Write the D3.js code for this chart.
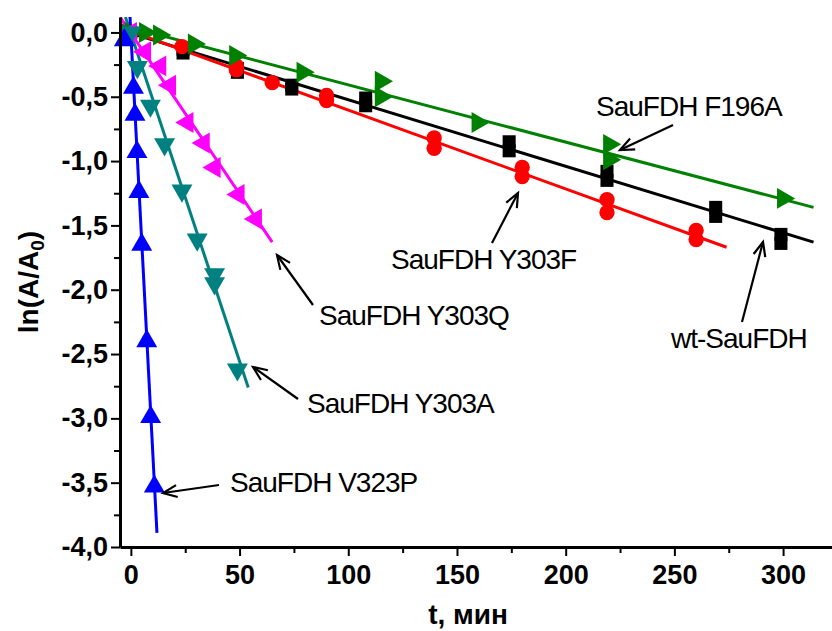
<!DOCTYPE html>
<html>
<head>
<meta charset="utf-8">
<script src="https://cdn.jsdelivr.net/npm/d3@7"></script>
<style>
  body { margin: 0; background: #fff; }
  svg { display: block; }
  .axis text { font-family: "Liberation Sans", Arial, sans-serif; font-weight: bold; font-size: 27px; fill: #000; }
  .note { font-family: "Liberation Sans", Arial, sans-serif; font-size: 28px; letter-spacing: -1px; fill: #000; }
</style>
</head>
<body>
<div id="chart-area"></div>
<script>
// times (min) and ln(A/A0) values, repeats are duplicate runs
var wtTime = [0, 24, 24, 49, 49, 74, 74, 108, 108, 174, 174, 219, 219, 269, 269, 299, 299]
var wtVal = [0, -0.13, -0.16, -0.28, -0.31, -0.41, -0.44, -0.51, -0.57, -0.85, -0.92, -1.08, -1.15, -1.36, -1.43, -1.57, -1.64]
var y303fTime = [0, 23.5, 48.5, 48.5, 65, 90, 90, 139.5, 139.5, 180, 180, 219, 219, 260, 260]
var y303fVal = [0, -0.11, -0.26, -0.29, -0.39, -0.49, -0.53, -0.82, -0.90, -1.05, -1.12, -1.30, -1.40, -1.54, -1.61]
var f196aTime = [0, 6.5, 13, 29, 48, 79, 115, 115, 159.5, 220, 220, 300]
var f196aVal = [0, 0.0, -0.02, -0.09, -0.18, -0.31, -0.38, -0.50, -0.70, -0.87, -0.99, -1.29]
var y303qTime = [0, 6.5, 13.5, 18, 26, 33.5, 38.5, 49.5, 57.5]
var y303qVal = [0, -0.15, -0.26, -0.41, -0.70, -0.86, -1.05, -1.26, -1.45]
var y303aTime = [0, 3, 9, 15.5, 23.5, 30.5, 38.5, 38.5, 49]
var y303aVal = [0, -0.27, -0.57, -0.87, -1.23, -1.61, -1.88, -1.95, -2.62]
var v323pTime = [-3, 1.2, 1.9, 2.8, 3.7, 5.0, 7.3, 9.1, 10.8]
var v323pVal = [-0.06, -0.43, -0.64, -0.93, -1.24, -1.65, -2.40, -2.99, -3.53]

// fitted straight lines, start and end [t, ln(A/A0)]
var wtFit = [[-5, 0.02], [314, -1.63]]
var y303fFit = [[-5, 0.04], [274, -1.67]]
var f196aFit = [[-5, 0.06], [314, -1.36]]
var y303qFit = [[-5, 0.12], [65, -1.63]]
var y303aFit = [[-2.5, 0.12], [54, -2.76]]
var v323pFit = [[-0.4, 0.12], [12, -3.89]]

var xTicks = [0, 50, 100, 150, 200, 250, 300]
var xMinor = [25, 75, 125, 175, 225, 275]
var yTicks = [0, -0.5, -1, -1.5, -2, -2.5, -3, -3.5, -4]
var yMinor = [-0.25, -0.75, -1.25, -1.75, -2.25, -2.75, -3.25, -3.75]

var series = [
  {time: wtTime, val: wtVal, fit: wtFit, color: "#000000", shape: d3.symbolSquare, size: 170, rot: 0},
  {time: y303fTime, val: y303fVal, fit: y303fFit, color: "#ff0000", shape: d3.symbolCircle, size: 185, rot: 0},
  {time: f196aTime, val: f196aVal, fit: f196aFit, color: "#008000", shape: d3.symbolTriangle, size: 190, rot: 90},
  {time: y303qTime, val: y303qVal, fit: y303qFit, color: "#ff00ff", shape: d3.symbolTriangle, size: 190, rot: -90},
  {time: y303aTime, val: y303aVal, fit: y303aFit, color: "#008080", shape: d3.symbolTriangle, size: 190, rot: 180},
  {time: v323pTime, val: v323pVal, fit: v323pFit, color: "#0000ff", shape: d3.symbolTriangle, size: 190, rot: 0}
]

var notes = [
  {text: "SauFDH F196A", x: 596, y: 116, from: [673, 125], to: [620, 150]},
  {text: "SauFDH Y303F", x: 391, y: 269, from: [492, 243], to: [518, 193]},
  {text: "wt-SauFDH", x: 671, y: 348, from: [742, 322], to: [763, 242]},
  {text: "SauFDH Y303Q", x: 319, y: 325, from: [313, 305], to: [277, 255]},
  {text: "SauFDH Y303A", x: 307, y: 413, from: [298, 399], to: [253, 367]},
  {text: "SauFDH V323P", x: 230, y: 492, from: [219, 485], to: [163, 493]}
]

var width = 832
var height = 631
var svg = d3.select("#chart-area")
  .append("svg")
  .attr("width", width)
  .attr("height", height)

var x = d3.scaleLinear().domain([-5, 322.5]).range([120, 832])
var y = d3.scaleLinear().domain([-4, 0.12]).range([547, 17])

var loc = d3.formatLocale({decimal: ",", thousands: " ", grouping: [3], currency: ["", ""], minus: "-"})
var fmt = loc.format(".1f")

svg.append("defs").append("clipPath").attr("id", "plot-clip")
  .append("rect").attr("x", 120).attr("y", 17).attr("width", 712).attr("height", 530)

svg.select("defs").append("marker")
  .attr("id", "arrow")
  .attr("markerUnits", "userSpaceOnUse")
  .attr("markerWidth", 30).attr("markerHeight", 30)
  .attr("refX", 15).attr("refY", 15)
  .attr("orient", "auto")
  .append("path")
  .attr("d", "M1,9 L15,15 L1,21")
  .attr("fill", "none")
  .attr("stroke", "#000")
  .attr("stroke-width", 2.2)

// fit lines
var lineGen = d3.line().x(d => x(d[0])).y(d => y(d[1]))
svg.append("g").attr("clip-path", "url(#plot-clip)")
  .selectAll("path")
  .data(series)
  .enter()
  .append("path")
  .attr("d", s => lineGen(s.fit))
  .attr("fill", "none")
  .attr("stroke", s => s.color)
  .attr("stroke-width", 3)

// markers
series.forEach(s => {
  var pts = s.time.map((t, i) => [t, s.val[i]])
  svg.append("g").selectAll("path")
    .data(pts)
    .enter()
    .append("path")
    .attr("d", d3.symbol().type(s.shape).size(s.size))
    .attr("transform", d => `translate(${x(d[0])}, ${y(d[1])}) rotate(${s.rot})`)
    .attr("fill", s.color)
})

// axes
var xAxis = svg.append("g").attr("class", "axis")
  .attr("transform", `translate(0, 547)`)
  .call(d3.axisBottom(x).tickValues(xTicks).tickSize(9).tickSizeOuter(0).tickPadding(6))
svg.append("g").attr("class", "axis minor")
  .attr("transform", `translate(0, 547)`)
  .call(d3.axisBottom(x).tickValues(xMinor).tickSize(6).tickFormat(""))
  .select(".domain").remove()

var yAxis = svg.append("g").attr("class", "axis")
  .attr("transform", `translate(120, 0)`)
  .call(d3.axisLeft(y).tickValues(yTicks).tickSize(9).tickSizeOuter(0).tickPadding(3).tickFormat(fmt))
svg.append("g").attr("class", "axis minor")
  .attr("transform", `translate(120, 0)`)
  .call(d3.axisLeft(y).tickValues(yMinor).tickSize(6).tickFormat(""))
  .select(".domain").remove()

svg.selectAll(".axis .domain").attr("stroke-width", 3)
svg.selectAll(".axis .tick line").attr("stroke-width", 2)
xAxis.selectAll("text").attr("dy", "0.8em")

// axis titles
var yTitle = svg.append("text")
  .attr("transform", "translate(38, 282) rotate(-90)")
  .attr("text-anchor", "middle")
  .attr("font-family", "Liberation Sans, Arial, sans-serif")
  .attr("font-weight", "bold")
  .attr("font-size", "28px")
yTitle.append("tspan").text("ln(A/A")
yTitle.append("tspan").attr("font-size", "19px").attr("dy", 6).text("0")
yTitle.append("tspan").attr("dy", -6).text(")")

svg.append("text")
  .attr("x", 468)
  .attr("y", 624)
  .attr("text-anchor", "middle")
  .attr("font-family", "Liberation Sans, Arial, sans-serif")
  .attr("font-weight", "bold")
  .attr("font-size", "28px")
  .text("t, мин")

// annotations
var ann = svg.append("g")
ann.selectAll("text")
  .data(notes)
  .enter()
  .append("text")
  .attr("class", "note")
  .attr("x", d => d.x)
  .attr("y", d => d.y)
  .text(d => d.text)
ann.selectAll("line")
  .data(notes)
  .enter()
  .append("line")
  .attr("x1", d => d.from[0]).attr("y1", d => d.from[1])
  .attr("x2", d => d.to[0]).attr("y2", d => d.to[1])
  .attr("stroke", "#000")
  .attr("stroke-width", 2.2)
  .attr("marker-end", "url(#arrow)")
</script>
</body>
</html>
